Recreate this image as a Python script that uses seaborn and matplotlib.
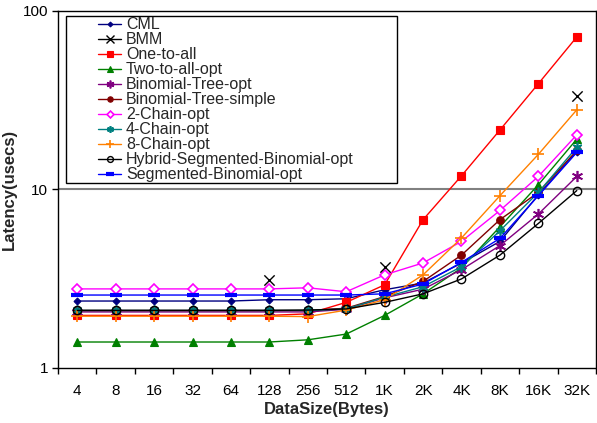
import numpy as np
import matplotlib
matplotlib.use("Agg")
import matplotlib.pyplot as plt
from matplotlib.lines import Line2D
from matplotlib.patches import Rectangle
import seaborn as sns

nan = np.nan

# categories on the x axis
sizes = ['4', '8', '16', '32', '64', '128', '256', '512', '1K', '2K', '4K', '8K', '16K', '32K']

# latency values (usecs)
cml = [2.36, 2.36, 2.36, 2.36, 2.36, 2.40, 2.40, 2.43, 2.73, 2.98, 3.85, 5.1, 9.3, 16.2]
bmm = [nan, nan, nan, nan, nan, 3.10, nan, nan, 3.68, nan, nan, nan, nan, 33.4]
one_to_all = [1.96, 1.96, 1.96, 1.96, 1.96, 1.96, 2.0, 2.32, 2.91, 6.75, 11.9, 21.5, 39.1, 71.5]
two_to_all = [1.39, 1.39, 1.39, 1.39, 1.39, 1.39, 1.43, 1.54, 1.96, 2.59, 3.62, 6.16, 10.6, 19.1]
binom_opt = [2.05, 2.05, 2.05, 2.05, 2.05, 2.05, 2.05, 2.12, 2.46, 2.75, 3.54, 4.83, 7.26, 11.8]
binom_simple = [2.09, 2.09, 2.09, 2.09, 2.09, 2.09, 2.09, 2.15, 2.50, 3.04, 4.27, 6.75, 9.6, 16.5]
chain2 = [2.76, 2.76, 2.76, 2.76, 2.76, 2.76, 2.80, 2.66, 3.31, 3.86, 5.1, 7.6, 11.8, 20.2]
chain4 = [2.09, 2.09, 2.09, 2.09, 2.09, 2.09, 2.09, 2.13, 2.48, 2.84, 3.68, 5.85, 9.6, 17.2]
chain8 = [1.94, 1.94, 1.94, 1.94, 1.94, 1.94, 1.93, 2.10, 2.40, 3.31, 5.33, 9.2, 15.7, 27.9]
hybrid = [2.09, 2.09, 2.09, 2.09, 2.09, 2.09, 2.10, 2.13, 2.32, 2.59, 3.14, 4.27, 6.43, 9.83]
segmented = [2.55, 2.55, 2.55, 2.55, 2.55, 2.55, 2.55, 2.55, 2.59, 2.94, 3.89, 5.3, 9.2, 16.1]

series = [
    ('CML', cml, '#000080', dict(marker='D', ms=3.5, mfc='#000080', mec='#000080')),
    ('BMM', bmm, 'black', dict(marker='x', ms=8, mew=1.0)),
    ('One-to-all', one_to_all, '#FF0000', dict(marker='s', ms=5.5)),
    ('Two-to-all-opt', two_to_all, '#008000', dict(marker='^', ms=5.5)),
    ('Binomial-Tree-opt', binom_opt, '#800080', dict(marker=(6, 2, 0), ms=8, mew=1.2)),
    ('Binomial-Tree-simple', binom_simple, '#800000', dict(marker='o', ms=5.5)),
    ('2-Chain-opt', chain2, '#FF00FF', dict(marker='D', ms=5, mfc='white', mew=1.2)),
    ('4-Chain-opt', chain4, '#008080', dict(marker=(6, 2, 0), ms=7, mew=1.2)),
    ('8-Chain-opt', chain8, '#FF8000', dict(marker='+', ms=9, mew=1.2)),
    ('Hybrid-Segmented-Binomial-opt', hybrid, 'black', dict(marker='o', ms=6, mfc='none', mew=1.0)),
    ('Segmented-Binomial-opt', segmented, '#0000FF', dict(marker='_', ms=8, mew=3)),
]

sns.set_style("white")
plt.rcParams['font.family'] = ['Liberation Sans', 'DejaVu Sans']

fig = plt.figure(figsize=(5.97, 4.23), dpi=100)
ax = fig.add_axes([58 / 597, 1 - 367.5 / 423, 538 / 597, 356.5 / 423])

x = np.arange(len(sizes))
handles = []
for name, vals, color, mk in series:
    vals = np.array(vals, dtype=float)
    ok = ~np.isnan(vals)
    if name == 'BMM':
        sns.scatterplot(x=x[ok], y=vals[ok], marker='x', color='black', s=55,
                        linewidth=1.0, ax=ax, zorder=5)
    else:
        sns.lineplot(x=x[ok], y=vals[ok], color=color, linewidth=1.0, ax=ax,
                     marker=mk['marker'], markersize=mk['ms'],
                     markeredgecolor=mk.get('mec', color),
                     markerfacecolor=mk.get('mfc', color),
                     markeredgewidth=mk.get('mew', 0.8), zorder=3)
    handles.append(Line2D([0], [0], color=color, linewidth=1.0,
                          marker=mk['marker'], markersize=mk['ms'] * 0.7,
                          markeredgecolor=mk.get('mec', color),
                          markerfacecolor=mk.get('mfc', color),
                          markeredgewidth=mk.get('mew', 0.8)))

ax.set_yscale('log')
ax.set_ylim(1, 100)
ax.set_xlim(-0.5, len(sizes) - 0.5)
ax.set_yticks([1, 10, 100])
ax.set_yticklabels(['1', '10', '100'])
ax.yaxis.set_minor_locator(matplotlib.ticker.NullLocator())
ax.axhline(10, color='#808080', linewidth=1.5, zorder=1)

ax.set_xticks(x)
ax.set_xticklabels(sizes)
ax.set_xticks(np.arange(len(sizes) + 1) - 0.5, minor=True)
ax.tick_params(axis='x', which='major', length=0, pad=12, labelsize=11, colors='black')
ax.tick_params(axis='x', which='minor', length=4, width=1, direction='out', bottom=True, color='black')
ax.tick_params(axis='y', which='major', length=4, width=1, direction='out', left=True,
               labelsize=11, pad=3, colors='black')

for sp in ax.spines.values():
    sp.set_color('black')
    sp.set_linewidth(1.0)

ax.set_xlabel('DataSize(Bytes)', fontsize=12, fontweight='bold', labelpad=3)
ax.set_ylabel('Latency(usecs)', fontsize=12, fontweight='bold', labelpad=4)
ax.grid(False)

# legend frame drawn separately, legend itself frameless
x0 = (66 - 58) / 538
y0 = (367.5 - 183) / 356.5
ax.add_patch(Rectangle((x0, y0), (397 - 66) / 538, (183 - 16) / 356.5,
                       transform=ax.transAxes, facecolor='white',
                       edgecolor='black', linewidth=1.0, zorder=6))
leg = ax.legend(handles, [s[0] for s in series], loc='upper left',
                bbox_to_anchor=((98 - 58) / 538, (367.5 - 17.5) / 356.5),
                frameon=False, fontsize=11.5, labelspacing=0.0,
                handlelength=1.45, handletextpad=0.3, borderpad=0.0,
                borderaxespad=0.0)
leg.set_zorder(7)

fig.savefig('out.png', dpi=100)
